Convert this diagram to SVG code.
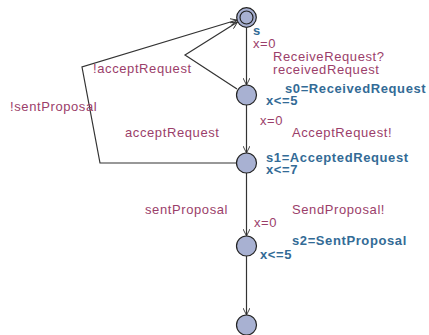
<svg xmlns="http://www.w3.org/2000/svg" width="429" height="335" viewBox="0 0 429 335">
<defs>
<marker id="arr" viewBox="0 0 10 10" refX="10" refY="5" markerWidth="7" markerHeight="7" orient="auto" markerUnits="userSpaceOnUse">
<path d="M0,0 L10,5 L0,10" fill="none" stroke="#333" stroke-width="1.3"/>
</marker>
</defs>
<style>
.loc{fill:#a8b1d2;stroke:#222;stroke-width:1.2}
.e{fill:none;stroke:#333;stroke-width:1.2;marker-end:url(#arr)}
.lab{font-family:"Liberation Sans",Arial,sans-serif;font-size:13px;letter-spacing:0.6px;fill:#9b3e6a}
.nm{font-family:"Liberation Sans",Arial,sans-serif;font-size:13px;letter-spacing:0.6px;font-weight:bold;fill:#336b96}
</style>
<rect width="429" height="335" fill="#fff"/>
<g id="edges">
<line class="e" x1="246.5" y1="28" x2="246.5" y2="85"/>
<line class="e" x1="246.5" y1="105" x2="246.5" y2="153"/>
<line class="e" x1="246.5" y1="173" x2="246.5" y2="236"/>
<line class="e" x1="246.5" y1="256" x2="246.5" y2="315"/>
<polyline class="e" points="237,89 185,55 237.5,22"/>
<polyline class="e" points="236.5,163 100,163 82,67 237,20"/>
</g>
<g id="s">
<circle class="loc" cx="246.5" cy="17.5" r="9.8"/>
<circle class="loc" cx="246.5" cy="17.5" r="6.5"/>
<text class="nm" x="253" y="35">s</text>
</g>
<g id="s0">
<circle class="loc" cx="246.5" cy="95" r="10"/>
<text class="nm" x="285" y="92.5">s0=ReceivedRequest</text>
<text class="nm" x="266" y="104.5">x&lt;=5</text>
</g>
<g id="s1">
<circle class="loc" cx="246.5" cy="163" r="10"/>
<text class="nm" x="266" y="162">s1=AcceptedRequest</text>
<text class="nm" x="266" y="174">x&lt;=7</text>
</g>
<g id="s2">
<circle class="loc" cx="246.5" cy="246" r="10"/>
<text class="nm" x="292" y="245">s2=SentProposal</text>
<text class="nm" x="260" y="259">x&lt;=5</text>
</g>
<g id="end">
<circle class="loc" cx="246.5" cy="325" r="10"/>
</g>
<g id="labels">
<text class="lab" x="253" y="47.5">x=0</text>
<text class="lab" x="273" y="61">ReceiveRequest?</text>
<text class="lab" x="273" y="74">receivedRequest</text>
<text class="lab" x="93" y="73">!acceptRequest</text>
<text class="lab" x="10" y="111">!sentProposal</text>
<text class="lab" x="125" y="137">acceptRequest</text>
<text class="lab" x="260" y="125">x=0</text>
<text class="lab" x="292" y="137">AcceptRequest!</text>
<text class="lab" x="145" y="214">sentProposal</text>
<text class="lab" x="292" y="214">SendProposal!</text>
<text class="lab" x="254" y="227">x=0</text>
</g>
</svg>
